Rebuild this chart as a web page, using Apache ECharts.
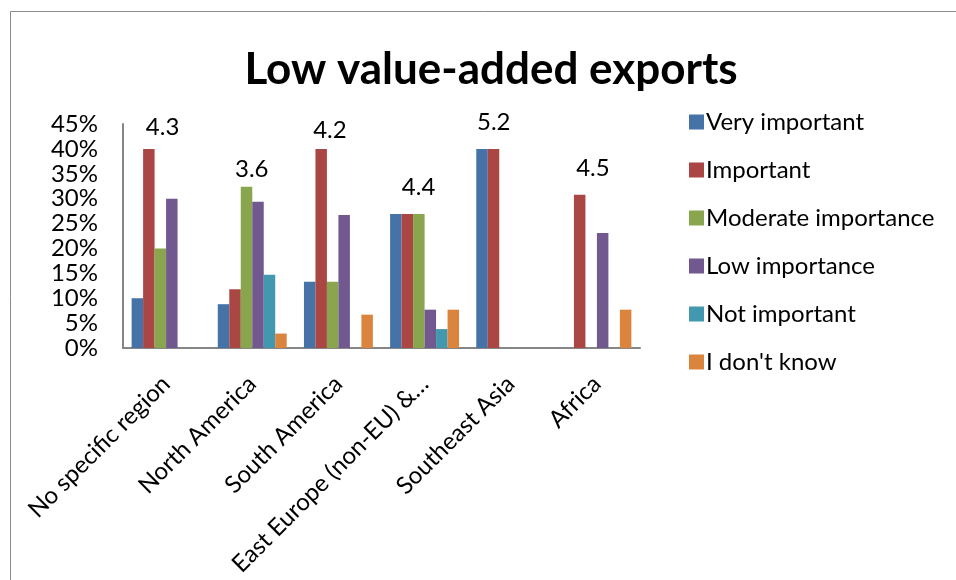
<!DOCTYPE html>
<html>
<head>
<meta charset="utf-8">
<script src="https://cdn.jsdelivr.net/npm/echarts@6/dist/echarts.min.js"></script>
<style>
html,body{margin:0;padding:0;background:#fff;}
#chart{width:956px;height:580px;}
</style>
</head>
<body>
<div id="chart"></div>
<script>
var titleText = 'Low value-added exports';
var categories = ['No specific region', 'North America', 'South America', 'East Europe (non-EU) &\u2026', 'Southeast Asia', 'Africa'];
var seriesNames = ['Very important', 'Important', 'Moderate importance', 'Low importance', 'Not important', "I don't know"];
var veryImportant = [10, 8.8, 13.3, 26.9, 40, 0];
var important     = [40, 11.8, 40, 26.9, 40, 30.8];
var moderate      = [20, 32.4, 13.3, 26.9, 0, 0];
var lowImportance = [30, 29.4, 26.7, 7.7, 0, 23.1];
var notImportant  = [0, 14.7, 0, 3.8, 0, 0];
var dontKnow      = [0, 2.9, 6.7, 7.7, 0, 7.7];
var scores = ['4.3', '3.6', '4.2', '4.4', '5.2', '4.5'];
var yTicks = [0, 5, 10, 15, 20, 25, 30, 35, 40, 45];

// layout helpers for the score labels (vertical level in axis units, horizontal nudge in px)
var scoreLevel = [44.4, 35.9, 43.8, 32.3, 45.4, 36.1];
var scoreNudge = [-3.5, -0.5, -8.5, -6, -17, -4];

var colors = ['#4572A7', '#AA4643', '#89A54E', '#71588F', '#4198AF', '#DB843D'];
var FONT = 'Lato';
var valueSets = [veryImportant, important, moderate, lowImportance, notImportant, dontKnow];

var series = valueSets.map(function (vals, i) {
  return {
    name: seriesNames[i],
    type: 'bar',
    data: vals,
    barGap: '0%',
    barCategoryGap: '20%',
    itemStyle: { color: colors[i] },
    emphasis: { disabled: true }
  };
});
series.push({
  name: 'score',
  type: 'scatter',
  symbolSize: 0,
  clip: false,
  silent: true,
  itemStyle: { opacity: 1 },
  emphasis: { disabled: true },
  data: scoreLevel.map(function (lv, i) {
    return {
      value: [i, lv],
      label: { offset: [scoreNudge[i], 0] }
    };
  }),
  label: {
    show: true,
    position: 'inside',
    formatter: function (p) { return scores[p.dataIndex]; },
    fontFamily: FONT,
    fontSize: 24,
    color: '#000',
    opacity: 1
  }
});

var chart = echarts.init(document.getElementById('chart'), null, { renderer: 'canvas' });
chart.setOption({
  animation: false,
  color: colors,
  backgroundColor: '#fff',
  graphic: [
    { type: 'rect', shape: { x: 10.5, y: 11.5, width: 1000, height: 700 }, style: { fill: 'none', stroke: '#8c8c8c', lineWidth: 1 }, silent: true, z: -1 },
    { type: 'text', x: 491, y: 70, style: { text: titleText, fontFamily: FONT, fontWeight: 'bold', fontSize: 44, fill: '#000', textAlign: 'center', textVerticalAlign: 'middle' } }
  ],
  legend: {
    orient: 'vertical',
    left: 684,
    top: 105,
    itemWidth: 15,
    itemHeight: 15,
    itemGap: 24,
    icon: 'rect',
    data: seriesNames,
    selectedMode: false,
    textStyle: { fontFamily: FONT, fontSize: 24, color: '#000', lineHeight: 24, padding: [0, 0, 0, -3] }
  },
  grid: { left: 123, right: 316, top: 124, bottom: 232, containLabel: false },
  xAxis: {
    type: 'category',
    data: categories,
    axisLine: { lineStyle: { color: '#868686', width: 2 } },
    axisTick: { show: false },
    axisLabel: { rotate: 45, interval: 0, fontFamily: FONT, fontSize: 24, color: '#000', margin: 32 }
  },
  yAxis: {
    type: 'value',
    min: 0,
    max: 45,
    interval: 5,
    splitLine: { show: false },
    axisLine: { show: true, lineStyle: { color: '#868686', width: 2 } },
    axisTick: { show: false },
    axisLabel: { fontFamily: FONT, fontSize: 24, color: '#000', margin: 25, formatter: function (v) { return yTicks.indexOf(v) >= 0 ? v + '%' : ''; } }
  },
  series: series
});
</script>
</body>
</html>
